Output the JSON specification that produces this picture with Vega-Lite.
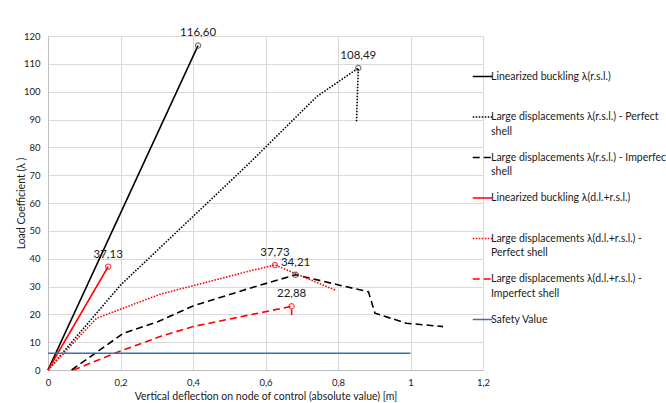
{
  "$schema": "https://vega.github.io/schema/vega-lite/v6.json",
  "width": 435,
  "height": 334,
  "autosize": "none",
  "padding": {"left": 48, "top": 36, "right": 183, "bottom": 33},
  "config": {
    "locale": {"number": {"decimal": ",", "thousands": ".", "grouping": [3], "currency": ["", " €"]}},
    "view": {"stroke": null},
    "font": "Lato",
    "axis": {
      "gridColor": "#d9d9d9",
      "gridWidth": 1,
      "domainColor": "#bfbfbf",
      "ticks": false,
      "labelFont": "Lato",
      "labelFontSize": 9.5,
      "labelColor": "#1a1a1a",
      "titleFont": "Lato",
      "titleFontSize": 10.5,
      "titleFontWeight": "normal",
      "titleColor": "#1a1a1a",
      "labelFlush": false,
      "labelOverlap": false
    }
  },
  "datasets": {
    "lines": [
      {"series": "Linearized buckling λ(r.s.l.)", "i": 0, "x": 0, "y": 0},
      {"series": "Linearized buckling λ(r.s.l.)", "i": 1, "x": 0.414, "y": 116.6},
      {"series": "Large displacements λ(r.s.l.) - Perfect shell", "i": 0, "x": 0, "y": 0},
      {"series": "Large displacements λ(r.s.l.) - Perfect shell", "i": 1, "x": 0.2, "y": 30.5},
      {"series": "Large displacements λ(r.s.l.) - Perfect shell", "i": 2, "x": 0.557, "y": 74.5},
      {"series": "Large displacements λ(r.s.l.) - Perfect shell", "i": 3, "x": 0.741, "y": 98.2},
      {"series": "Large displacements λ(r.s.l.) - Perfect shell", "i": 4, "x": 0.856, "y": 108.49},
      {"series": "Large displacements λ(r.s.l.) - Perfect shell", "i": 5, "x": 0.851, "y": 89.2},
      {"series": "Large displacements λ(r.s.l.) - Imperfect shell", "i": 0, "x": 0.065, "y": 0},
      {"series": "Large displacements λ(r.s.l.) - Imperfect shell", "i": 1, "x": 0.208, "y": 13.2},
      {"series": "Large displacements λ(r.s.l.) - Imperfect shell", "i": 2, "x": 0.304, "y": 17.4},
      {"series": "Large displacements λ(r.s.l.) - Imperfect shell", "i": 3, "x": 0.4, "y": 23},
      {"series": "Large displacements λ(r.s.l.) - Imperfect shell", "i": 4, "x": 0.557, "y": 29.4},
      {"series": "Large displacements λ(r.s.l.) - Imperfect shell", "i": 5, "x": 0.683, "y": 34.21},
      {"series": "Large displacements λ(r.s.l.) - Imperfect shell", "i": 6, "x": 0.81, "y": 30.3},
      {"series": "Large displacements λ(r.s.l.) - Imperfect shell", "i": 7, "x": 0.884, "y": 28.1},
      {"series": "Large displacements λ(r.s.l.) - Imperfect shell", "i": 8, "x": 0.902, "y": 20.4},
      {"series": "Large displacements λ(r.s.l.) - Imperfect shell", "i": 9, "x": 0.989, "y": 16.8},
      {"series": "Large displacements λ(r.s.l.) - Imperfect shell", "i": 10, "x": 1.09, "y": 15.6},
      {"series": "Linearized buckling λ(d.l.+r.s.l.)", "i": 0, "x": 0, "y": 0},
      {"series": "Linearized buckling λ(d.l.+r.s.l.)", "i": 1, "x": 0.166, "y": 37.13},
      {"series": "Large displacements λ(d.l.+r.s.l.) - Perfect shell", "i": 0, "x": 0, "y": 0},
      {"series": "Large displacements λ(d.l.+r.s.l.) - Perfect shell", "i": 1, "x": 0.134, "y": 18.6},
      {"series": "Large displacements λ(d.l.+r.s.l.) - Perfect shell", "i": 2, "x": 0.309, "y": 27.2},
      {"series": "Large displacements λ(d.l.+r.s.l.) - Perfect shell", "i": 3, "x": 0.557, "y": 35.6},
      {"series": "Large displacements λ(d.l.+r.s.l.) - Perfect shell", "i": 4, "x": 0.626, "y": 37.73},
      {"series": "Large displacements λ(d.l.+r.s.l.) - Perfect shell", "i": 5, "x": 0.796, "y": 28.5},
      {"series": "Large displacements λ(d.l.+r.s.l.) - Imperfect shell", "i": 0, "x": 0.07, "y": 0},
      {"series": "Large displacements λ(d.l.+r.s.l.) - Imperfect shell", "i": 1, "x": 0.2, "y": 6.8},
      {"series": "Large displacements λ(d.l.+r.s.l.) - Imperfect shell", "i": 2, "x": 0.309, "y": 12},
      {"series": "Large displacements λ(d.l.+r.s.l.) - Imperfect shell", "i": 3, "x": 0.4, "y": 15.6},
      {"series": "Large displacements λ(d.l.+r.s.l.) - Imperfect shell", "i": 4, "x": 0.557, "y": 19.8},
      {"series": "Large displacements λ(d.l.+r.s.l.) - Imperfect shell", "i": 5, "x": 0.672, "y": 22.88},
      {"series": "Large displacements λ(d.l.+r.s.l.) - Imperfect shell", "i": 6, "x": 0.672, "y": 19.8},
      {"series": "Safety Value", "i": 0, "x": 0, "y": 6},
      {"series": "Safety Value", "i": 1, "x": 1, "y": 6}
    ],
    "peaks": [
      {"series": "Linearized buckling λ(r.s.l.)", "x": 0.414, "y": 116.6},
      {"series": "Large displacements λ(r.s.l.) - Perfect shell", "x": 0.856, "y": 108.49},
      {"series": "Large displacements λ(r.s.l.) - Imperfect shell", "x": 0.683, "y": 34.21},
      {"series": "Linearized buckling λ(d.l.+r.s.l.)", "x": 0.166, "y": 37.13},
      {"series": "Large displacements λ(d.l.+r.s.l.) - Perfect shell", "x": 0.626, "y": 37.73},
      {"series": "Large displacements λ(d.l.+r.s.l.) - Imperfect shell", "x": 0.672, "y": 22.88}
    ]
  },
  "encoding": {
    "x": {
      "field": "x", "type": "quantitative",
      "scale": {"domain": [0, 1.2], "nice": false, "zero": false},
      "axis": {
        "values": [0, 0.2, 0.4, 0.6, 0.8, 1, 1.2],
        "format": "~g",
        "title": "Vertical deflection on node of control (absolute value) [m]",
        "labelPadding": 7,
        "titlePadding": 5
      }
    },
    "y": {
      "field": "y", "type": "quantitative",
      "scale": {"domain": [0, 120], "nice": false},
      "axis": {
        "values": [0, 10, 20, 30, 40, 50, 60, 70, 80, 90, 100, 110, 120],
        "format": "d",
        "title": "Load Coefficient (λ )",
        "labelPadding": 8,
        "titlePadding": -3
      }
    }
  },
  "layer": [
    {
      "data": {"name": "lines"},
      "mark": {"type": "line", "strokeWidth": 1.6},
      "encoding": {
        "order": {"field": "i", "type": "quantitative"},
        "color": {
          "field": "series", "type": "nominal",
          "scale": {
            "domain": [
              "Linearized buckling λ(r.s.l.)",
              "Large displacements λ(r.s.l.) - Perfect shell",
              "Large displacements λ(r.s.l.) - Imperfect shell",
              "Linearized buckling λ(d.l.+r.s.l.)",
              "Large displacements λ(d.l.+r.s.l.) - Perfect shell",
              "Large displacements λ(d.l.+r.s.l.) - Imperfect shell",
              "Safety Value"
            ],
            "range": ["#000000", "#000000", "#000000", "#FF0000", "#FF0000", "#FF0000", "#2E75B6"]
          },
          "legend": {
            "orient": "none",
            "legendX": 424,
            "legendY": 30,
            "title": null,
            "padding": 0,
            "symbolType": "stroke",
            "symbolSize": 380,
            "symbolStrokeWidth": 1.5,
            "labelFont": "Lato",
            "labelFontSize": 10.5,
            "labelColor": "#1a1a1a",
            "labelLimit": 400,
            "labelOffset": -2,
            "rowPadding": 9.5,
            "labelExpr": "test(/shell$/, datum.label) ? (indexof(datum.label, 'd.l.') >= 0 ? [split(datum.label, ' - ')[0] + ' -', split(datum.label, ' - ')[1]] : [replace(datum.label, ' shell', ''), 'shell']) : [datum.label, ' ']",
            "encode": {
              "labels": {"update": {"lineHeight": {"value": 14.7}}},
              "symbols": {"update": {"stroke": {"signal": "datum.value === 'Linearized buckling λ(r.s.l.)' ? '#8B1A1A' : scale('color', datum.value)"}}}
            }
          }
        },
        "strokeDash": {
          "field": "series", "type": "nominal",
          "scale": {
            "domain": [
              "Linearized buckling λ(r.s.l.)",
              "Large displacements λ(r.s.l.) - Perfect shell",
              "Large displacements λ(r.s.l.) - Imperfect shell",
              "Linearized buckling λ(d.l.+r.s.l.)",
              "Large displacements λ(d.l.+r.s.l.) - Perfect shell",
              "Large displacements λ(d.l.+r.s.l.) - Imperfect shell",
              "Safety Value"
            ],
            "range": [[1, 0], [1.5, 1.5], [7, 4], [1, 0], [1.5, 1.5], [7, 4], [1, 0]]
          },
          "legend": {
            "orient": "none",
            "legendX": 424,
            "legendY": 30,
            "title": null
          }
        }
      }
    },
    {
      "data": {"name": "peaks"},
      "mark": {"type": "point", "shape": "circle", "filled": false, "size": 28, "strokeWidth": 1.2},
      "encoding": {
        "stroke": {
          "field": "series", "type": "nominal",
          "scale": {
            "domain": [
              "Linearized buckling λ(r.s.l.)",
              "Large displacements λ(r.s.l.) - Perfect shell",
              "Large displacements λ(r.s.l.) - Imperfect shell",
              "Linearized buckling λ(d.l.+r.s.l.)",
              "Large displacements λ(d.l.+r.s.l.) - Perfect shell",
              "Large displacements λ(d.l.+r.s.l.) - Imperfect shell"
            ],
            "range": ["#404040", "#404040", "#404040", "#FF0000", "#FF0000", "#FF0000"]
          },
          "legend": null
        }
      }
    },
    {
      "data": {"name": "peaks"},
      "mark": {"type": "text", "dy": -12, "font": "Lato", "fontSize": 11.5, "color": "#1a1a1a"},
      "encoding": {
        "text": {"field": "y", "type": "quantitative", "format": ".2f"}
      }
    }
  ]
}
